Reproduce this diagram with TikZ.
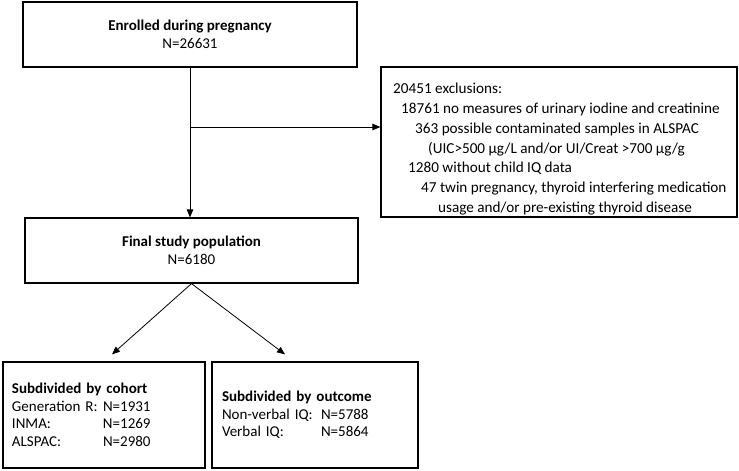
\documentclass[tikz,border=0pt]{standalone}
\usepackage{fontspec}
\setmainfont{Carlito}
\usepackage{tikz}
\usetikzlibrary{arrows.meta, calc, positioning}

\begin{document}
\begin{tikzpicture}[x=1pt, y=-1pt,
    box/.style={draw, line width=1.2pt, inner sep=0pt, font=\fontsize{15}{17.5}\selectfont},
    arr/.style={line width=0.8pt, -{Triangle[length=8pt, width=6.5pt]}}]
            \useasboundingbox (0,0) rectangle (739,471);
            \node[box, minimum width=334pt, minimum height=65pt, align=center] (enrol) at (190,34.5)
                {\textbf{Enrolled during pregnancy}\\N=26631};
            \node[box, minimum width=333pt, minimum height=65pt, align=center] (final) at (191.5,250.5)
                {\textbf{Final study population}\\N=6180};
            \node[box, minimum width=356pt, minimum height=150pt] (excl) at (559,142) {};
            \node[anchor=north west, inner sep=0pt, align=left,
                  font=\fontsize{15.2}{19.8}\selectfont] (excltext) at (393,83)
                {20451 exclusions:\\
                 \hspace*{8pt}18761 no measures of urinary iodine and creatinine\\
                 \hspace*{22pt}363 possible contaminated samples in ALSPAC\\
                 \hspace*{35pt}(UIC>500 µg/L and/or UI/Creat >700 µg/g\\
                 \hspace*{15pt}1280 without child IQ data\\
                 \hspace*{28pt}47 twin pregnancy, thyroid interfering medication\\
                 \hspace*{45pt}usage and/or pre-existing thyroid disease};
            \node[box, minimum width=202pt, minimum height=106pt, text width=184pt, align=left] (cohort) at (104,415)
                {\textbf{Subdivided by cohort}\\
                 \makebox[91pt][l]{Generation R:}N=1931\\
                 \makebox[91pt][l]{INMA:}N=1269\\
                 \makebox[91pt][l]{ALSPAC:}N=2980};
            \node[box, minimum width=206pt, minimum height=106pt, text width=186pt, align=left] (outcome) at (315,415)
                {\textbf{Subdivided by outcome}\\
                 \makebox[99pt][l]{Non-verbal IQ:}N=5788\\
                 \makebox[99pt][l]{Verbal IQ:}N=5864};
            % connectors
            \coordinate (split) at (enrol.south |- 0,127);
            \draw[arr] (enrol.south) -- (enrol.south |- final.north);
            \draw[arr] (split) -- (split -| excl.west);
            \draw[arr] (final.south) -- ([shift={(8,-7)}]cohort.north);
            \draw[arr] (final.south) -- ([shift={(-30,-7)}]outcome.north);
        \end{tikzpicture}
\end{document}
